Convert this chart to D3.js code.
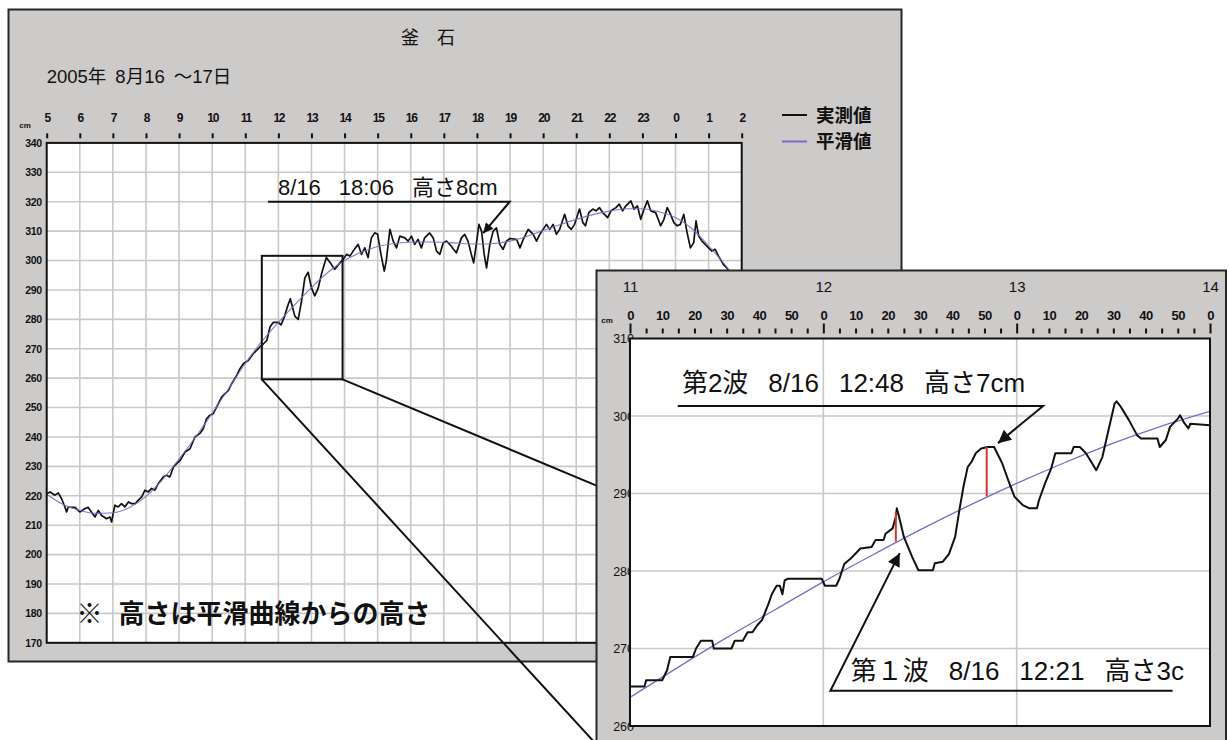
<!DOCTYPE html>
<html><head><meta charset="utf-8">
<script src="https://cdn.jsdelivr.net/npm/d3@7"></script>
<style>
html,body{margin:0;padding:0;background:#fff;}
svg{display:block;}
text{font-family:"Liberation Sans","Noto Sans CJK JP",sans-serif;fill:#111;}
</style></head><body>
<svg id="c" width="1229" height="740"></svg>
<script>
// ---------- DATA ----------
const titleText = "釜　石";
const dateParts = ["2005年", "8月16", "～17日"];
const legendLabels = ["実測値", "平滑値"];
const topHourLabels = ["5","6","7","8","9","10","11","12","13","14","15","16","17","18","19","20","21","22","23","0","1","2"];
const topHourValues = [5,6,7,8,9,10,11,12,13,14,15,16,17,18,19,20,21,22,23,24,25,26];
const mainCmTicks = [170,180,190,200,210,220,230,240,250,260,270,280,290,300,310,320,330,340];

// measured tide level [hour of 8/16 (24+ = 8/17), cm]
const mainMeasured = [[5.00,220.7],[5.10,221.3],[5.25,220.2],[5.35,221.0],[5.45,219.0],[5.55,216.2],[5.60,214.5],[5.65,216.1],[5.85,216.1],[6.00,214.5],[6.15,215.6],[6.25,216.1],[6.35,214.5],[6.46,212.8],[6.56,215.0],[6.66,213.3],[6.81,212.2],[6.91,212.8],[6.96,211.1],[7.06,216.8],[7.16,216.2],[7.26,217.3],[7.36,216.2],[7.47,217.9],[7.57,217.3],[7.67,217.3],[7.77,218.5],[7.87,219.6],[7.97,221.9],[8.07,221.3],[8.17,222.5],[8.27,221.9],[8.37,224.1],[8.52,226.4],[8.62,227.0],[8.72,226.4],[8.83,229.8],[8.98,231.5],[9.03,232.0],[9.18,234.9],[9.33,236.0],[9.48,240.0],[9.63,241.2],[9.73,242.8],[9.83,246.2],[9.93,247.4],[10.03,247.9],[10.13,250.1],[10.29,253.6],[10.39,254.7],[10.49,255.8],[10.59,258.1],[10.74,260.9],[10.84,263.2],[10.94,264.9],[11.09,266.0],[11.24,268.3],[11.44,270.6],[11.55,271.7],[11.65,272.8],[11.75,277.5],[11.85,279.0],[12.00,279.0],[12.08,278.1],[12.19,281.1],[12.28,284.5],[12.36,287.0],[12.50,281.0],[12.60,280.0],[12.70,286.2],[12.80,294.1],[12.90,296.0],[13.00,290.7],[13.10,288.0],[13.20,290.5],[13.30,295.3],[13.45,301.0],[13.60,298.7],[13.70,297.0],[13.86,299.2],[13.96,300.4],[14.06,302.1],[14.16,301.5],[14.26,303.2],[14.41,305.5],[14.51,302.1],[14.61,304.3],[14.71,301.0],[14.81,307.7],[14.91,309.4],[15.00,308.9],[15.10,302.1],[15.20,296.4],[15.26,299.8],[15.37,310.6],[15.47,306.6],[15.57,304.3],[15.67,308.3],[15.82,307.7],[15.92,306.6],[16.02,308.3],[16.12,305.5],[16.22,307.2],[16.32,304.3],[16.42,307.7],[16.57,309.4],[16.68,307.7],[16.78,303.2],[16.88,302.1],[16.98,306.0],[17.08,306.6],[17.18,305.5],[17.28,304.0],[17.38,302.6],[17.53,307.7],[17.63,308.9],[17.73,306.6],[17.83,302.1],[17.90,299.2],[17.98,305.5],[18.06,312.3],[18.14,310.0],[18.22,302.0],[18.29,297.5],[18.39,305.5],[18.49,310.0],[18.59,311.1],[18.69,305.5],[18.79,303.8],[18.89,306.6],[19.00,307.5],[19.20,307.2],[19.30,304.3],[19.40,307.2],[19.55,310.6],[19.70,308.9],[19.80,306.6],[19.90,308.9],[20.00,310.6],[20.10,312.3],[20.20,310.6],[20.30,312.3],[20.40,308.9],[20.50,310.6],[20.65,315.7],[20.75,311.8],[20.85,310.6],[20.95,312.3],[21.10,317.5],[21.20,312.9],[21.28,311.8],[21.38,316.3],[21.50,317.5],[21.60,316.9],[21.70,318.0],[21.80,316.3],[21.95,314.6],[22.05,316.9],[22.20,318.0],[22.30,319.2],[22.40,316.9],[22.50,318.6],[22.65,320.3],[22.75,317.5],[22.85,318.6],[22.95,314.0],[23.05,317.5],[23.15,320.3],[23.25,316.9],[23.40,316.3],[23.55,311.8],[23.65,314.0],[23.75,318.0],[23.85,315.7],[23.95,312.9],[24.05,311.8],[24.15,312.3],[24.25,315.7],[24.35,309.5],[24.45,304.3],[24.55,306.1],[24.62,313.5],[24.70,308.3],[24.80,306.6],[24.90,305.5],[25.00,304.3],[25.10,303.2],[25.20,303.8],[25.30,301.5],[25.45,298.6],[25.55,297.5],[25.65,295.5]];

const mainSmoothed = [[5.0,220.5],[5.5,217.0],[6.0,215.0],[6.5,214.0],[7.0,214.2],[7.5,216.0],[8.0,219.8],[8.5,225.5],[9.0,232.5],[9.5,240.0],[10.0,248.0],[10.5,256.5],[11.0,265.0],[11.5,272.5],[12.0,279.0],[12.5,285.0],[13.0,290.8],[13.5,296.0],[14.0,300.0],[14.5,302.8],[15.0,304.8],[15.5,305.8],[16.0,306.2],[16.5,306.3],[17.0,306.2],[17.5,305.8],[18.0,305.6],[18.5,305.8],[19.0,306.6],[19.5,308.2],[20.0,310.2],[20.5,312.2],[21.0,314.0],[21.5,315.6],[22.0,316.8],[22.5,317.6],[23.0,317.6],[23.5,316.6],[24.0,314.6],[24.5,310.8],[25.0,305.0],[25.5,298.5],[25.7,295.5]];

// zoom box on main chart [hour, cm]
const zoomBox = {h0: 11.5, h1: 13.94, c0: 259.6, c1: 301.6};

const mainNoteParts = ["8/16", "18:06", "高さ8cm"];
const mainNoteText = [11.99, 322.3];
const mainNoteLine = [[11.69, 320.0], [18.99, 320.0]];
const mainNoteTip = [18.19, 309.3];
const remarkParts = ["※", "高さは平滑曲線からの高さ"];
const remarkAt = [5.9, 176.6];

// inset (minutes after 11:00, cm)
const insetHourLabels = ["11", "12", "13", "14"];
const insetHourValues = [0, 60, 120, 180];
const insetMinuteLabels = ["0", "10", "20", "30", "40", "50"];
const insetCmTicks = [260, 270, 280, 290, 300, 310];

const insetMeasured = [[0,265.1],[4.5,265.1],[5,265.9],[10,265.9],[11.5,267.2],[12.5,268.9],[19.5,268.9],[20.5,270.0],[22,271.0],[25.5,271.0],[26,270.0],[31.5,270.0],[32.5,271.0],[35,271.0],[36.5,272.1],[38,272.1],[39.5,273.0],[41,273.7],[43,275.8],[44,277.0],[45.5,278.1],[46.5,278.1],[47.3,277.0],[48,278.8],[49,279.0],[59.5,279.0],[60.5,278.1],[64,278.1],[65,279.0],[66.5,280.9],[68.5,281.6],[71.5,282.9],[75,283.1],[76.2,284.0],[78.7,284.0],[79.3,284.8],[81.5,285.5],[82.5,287.0],[82.8,288.1],[83.5,287.0],[85,284.4],[87.6,281.8],[89.5,280.1],[94,280.1],[94.6,281.0],[97.1,281.2],[99,282.2],[100.9,284.4],[102.2,287.8],[103.5,290.9],[104.8,293.4],[106,294.1],[107.3,295.2],[109,295.8],[111,296.0],[113,296.0],[115.5,293.9],[117.4,291.7],[119.3,289.6],[121.9,288.5],[123.8,288.1],[126.3,288.1],[126.9,289.1],[128.8,291.3],[130.7,293.2],[132,295.2],[137,295.2],[137.7,296.0],[139.6,296.0],[141.5,295.2],[143.4,293.9],[144.7,293.0],[146.6,294.7],[148.5,298.2],[150.4,301.6],[151,301.9],[152.3,301.2],[154.8,299.5],[157.4,297.5],[158.6,297.1],[163.7,297.1],[164.4,296.0],[166.3,296.9],[167.6,298.6],[170.1,299.7],[170.7,300.1],[172,299.1],[173.3,298.4],[173.9,299.0],[180,298.8]];

const insetSmoothed = [[0,263.7],[15,267.6],[30,271.4],[45,275.0],[60,278.6],[75,282.0],[90,285.3],[105,288.4],[120,291.3],[135,294.0],[150,296.5],[165,298.7],[180,300.6]];

// wave heights (red bars): minute, smoothed level, peak level
const waveBars = [[82.5, 283.8, 287.6], [110.7, 289.6, 296.0]];

const wave2Parts = ["第2波", "8/16", "12:48", "高さ7cm"];
const wave2Text = [16.1, 303.1];
const wave2Line = [[14.8, 301.3], [128.2, 301.3]];
const wave2Tip = [114.2, 296.5];
const wave1Parts = ["第１波", "8/16", "12:21", "高さ3c"];
const wave1Text = [68.5, 265.9];
const wave1Line = [[168.4, 264.55], [62.2, 264.55]];
const wave1Tip = [83.7, 282.3];

// ---------- STYLE / LAYOUT ----------
const GRAY = "#cdcaca", BORDER = "#262626", GRID = "#c9c9c9", PURPLE = "#7a6cc6", RED = "#d4372a";
const MONO = "'DejaVu Sans Mono', monospace";

const svg = d3.select("#c");
const defs = svg.append("defs");
function marker(id, w, h) {
  defs.append("marker").attr("id", id).attr("viewBox", "0 0 10 10")
    .attr("refX", 10).attr("refY", 5).attr("markerUnits", "userSpaceOnUse")
    .attr("markerWidth", w).attr("markerHeight", h).attr("orient", "auto")
    .append("path").attr("d", "M0,0 L10,5 L0,10 Z").attr("fill", "#111");
}
marker("ahS", 13, 10);
marker("ahL", 17, 13);

// ---------- MAIN CHART ----------
const xMain = d3.scaleLinear().domain([5, 26]).range([46.7, 741.7]);
const yMain = d3.scaleLinear().domain([170, 340]).range([642.8, 142.9]);

svg.append("rect").attr("x", 8.5).attr("y", 9.5).attr("width", 893).attr("height", 652)
  .attr("fill", GRAY).attr("stroke", BORDER).attr("stroke-width", 2);

svg.append("text").attr("x", 428).attr("y", 38).attr("dy", "0.36em")
  .attr("text-anchor", "middle").attr("font-size", 18).text(titleText);

function chunks(sel, parts, gap) {
  parts.forEach((p, i) => sel.append("tspan").attr("dx", i ? gap : 0).text(p));
}
chunks(svg.append("text").attr("x", 46.7).attr("y", 83).attr("font-size", 18.5), dateParts, 9);

const legendColors = ["#111", PURPLE];
legendLabels.forEach((l, i) => {
  const y = 115 + i * 26.5;
  svg.append("line").attr("x1", 782).attr("x2", 807).attr("y1", y).attr("y2", y)
    .attr("stroke", legendColors[i]).attr("stroke-width", 2);
  svg.append("text").attr("x", 816).attr("y", y).attr("dy", "0.36em")
    .attr("font-size", 18.5).attr("font-weight", "bold").text(l);
});

const [mx0, mx1] = xMain.range(), [my0, my1] = [yMain(340), yMain(170)];
defs.append("clipPath").attr("id", "clipMain").append("rect")
  .attr("x", mx0).attr("y", my0).attr("width", mx1 - mx0).attr("height", my1 - my0);

svg.append("rect").attr("x", mx0).attr("y", my0).attr("width", mx1 - mx0).attr("height", my1 - my0).attr("fill", "#fff");

const gridMain = svg.append("g").attr("stroke", GRID).attr("stroke-width", 1.6);
gridMain.selectAll("line.v").data(topHourValues.slice(1, -1)).join("line")
  .attr("x1", d => xMain(d)).attr("x2", d => xMain(d)).attr("y1", my0).attr("y2", my1);
gridMain.selectAll("line.h").data(mainCmTicks.slice(1, -1)).join("line").attr("class", "h")
  .attr("x1", mx0).attr("x2", mx1).attr("y1", d => yMain(d)).attr("y2", d => yMain(d));

const lineMain = d3.line().x(d => xMain(d[0])).y(d => yMain(d[1]));
const gLines = svg.append("g").attr("clip-path", "url(#clipMain)");
gLines.append("path").datum(mainMeasured).attr("d", lineMain).attr("fill", "none")
  .attr("stroke", "#111").attr("stroke-width", 1.7).attr("stroke-linejoin", "round");
gLines.append("path").datum(mainSmoothed).attr("d", lineMain.curve(d3.curveMonotoneX)).attr("fill", "none")
  .attr("stroke", PURPLE).attr("stroke-width", 1.1).attr("opacity", 0.9);

svg.append("rect").attr("x", mx0).attr("y", my0).attr("width", mx1 - mx0).attr("height", my1 - my0)
  .attr("fill", "none").attr("stroke", "#111").attr("stroke-width", 2);

// top axis
const axTop = svg.append("g").attr("transform", `translate(0,${my0 - 4.6})`)
  .call(d3.axisTop(xMain).tickValues(topHourValues).tickSize(5).tickPadding(11.5)
    .tickFormat((d, i) => topHourLabels[i]));
axTop.select(".domain").remove();
axTop.selectAll("line").attr("stroke", "#111").attr("stroke-width", 2);
axTop.selectAll("text").attr("font-family", MONO).attr("font-weight", "bold").attr("font-size", 12)
  .attr("letter-spacing", -1.2).attr("fill", "#111");
svg.append("text").attr("x", 25).attr("y", 128).attr("text-anchor", "middle")
  .attr("font-family", MONO).attr("font-size", 8).attr("font-weight", "bold").text("cm");

const axLeft = svg.append("g").attr("transform", `translate(${mx0},0)`)
  .call(d3.axisLeft(yMain).tickValues(mainCmTicks).tickSize(0).tickPadding(5));
axLeft.select(".domain").remove();
axLeft.selectAll("text").attr("font-family", MONO).attr("font-weight", "bold").attr("font-size", 10.5)
  .attr("letter-spacing", -0.4).attr("fill", "#111");

// zoom box
svg.append("rect").attr("x", xMain(zoomBox.h0)).attr("y", yMain(zoomBox.c1))
  .attr("width", xMain(zoomBox.h1) - xMain(zoomBox.h0)).attr("height", yMain(zoomBox.c0) - yMain(zoomBox.c1))
  .attr("fill", "none").attr("stroke", "#111").attr("stroke-width", 2);

// main annotation
chunks(svg.append("text").attr("x", xMain(mainNoteText[0])).attr("y", yMain(mainNoteText[1])).attr("font-size", 22),
  mainNoteParts, 18);
svg.append("path").attr("d", d3.line()([
    [xMain(mainNoteLine[0][0]), yMain(mainNoteLine[0][1])],
    [xMain(mainNoteLine[1][0]), yMain(mainNoteLine[1][1])],
    [xMain(mainNoteTip[0]), yMain(mainNoteTip[1])]]))
  .attr("fill", "none").attr("stroke", "#111").attr("stroke-width", 2).attr("marker-end", "url(#ahS)");

chunks(svg.append("text").attr("x", xMain(remarkAt[0])).attr("y", yMain(remarkAt[1]))
  .attr("font-size", 26).attr("font-weight", "bold"), remarkParts, 16);

// ---------- INSET ----------
const xIn = d3.scaleLinear().domain([0, 180]).range([630, 1210]);
const yIn = d3.scaleLinear().domain([260, 310]).range([726, 338.5]);
const panel = {x: 596.5, y: 270.5, w: 629.5, h: 520};

// connector lines (drawn under the inset panel)
svg.append("line").attr("x1", xMain(zoomBox.h0)).attr("y1", yMain(zoomBox.c0))
  .attr("x2", panel.x).attr("y2", panel.y + 474).attr("stroke", "#111").attr("stroke-width", 2);
svg.append("line").attr("x1", xMain(zoomBox.h1)).attr("y1", yMain(zoomBox.c0))
  .attr("x2", xIn(0)).attr("y2", yIn(289.2)).attr("stroke", "#111").attr("stroke-width", 2);

svg.append("rect").attr("x", panel.x).attr("y", panel.y).attr("width", panel.w).attr("height", panel.h)
  .attr("fill", GRAY).attr("stroke", BORDER).attr("stroke-width", 2);

const [ix0, ix1] = xIn.range(), iy0 = yIn(310), iy1 = yIn(260);

const axInL = svg.append("g").attr("transform", `translate(${ix0},0)`)
  .call(d3.axisLeft(yIn).tickValues(insetCmTicks).tickSize(0).tickPadding(-4));
axInL.select(".domain").remove();
axInL.selectAll("text").attr("font-family", MONO).attr("font-size", 12.5).attr("fill", "#111");

svg.append("text").attr("x", 607).attr("y", 323).attr("text-anchor", "middle")
  .attr("font-family", MONO).attr("font-size", 8).attr("font-weight", "bold").text("cm");

defs.append("clipPath").attr("id", "clipIn").append("rect")
  .attr("x", ix0).attr("y", iy0).attr("width", ix1 - ix0).attr("height", iy1 - iy0);
svg.append("rect").attr("x", ix0).attr("y", iy0).attr("width", ix1 - ix0).attr("height", iy1 - iy0).attr("fill", "#fff");

const gridIn = svg.append("g").attr("stroke", GRID).attr("stroke-width", 1.6);
gridIn.selectAll("line.v").data(insetHourValues.slice(1, -1)).join("line")
  .attr("x1", d => xIn(d)).attr("x2", d => xIn(d)).attr("y1", iy0).attr("y2", iy1);
gridIn.selectAll("line.h").data(insetCmTicks.slice(1, -1)).join("line").attr("class", "h")
  .attr("x1", ix0).attr("x2", ix1).attr("y1", d => yIn(d)).attr("y2", d => yIn(d));

const lineIn = d3.line().x(d => xIn(d[0])).y(d => yIn(d[1]));
const gIn = svg.append("g").attr("clip-path", "url(#clipIn)");
gIn.append("path").datum(insetSmoothed).attr("d", d3.line().x(d => xIn(d[0])).y(d => yIn(d[1])).curve(d3.curveMonotoneX))
  .attr("fill", "none").attr("stroke", PURPLE).attr("stroke-width", 1.3);
gIn.append("path").datum(insetMeasured).attr("d", lineIn).attr("fill", "none")
  .attr("stroke", "#111").attr("stroke-width", 2).attr("stroke-linejoin", "round");
gIn.selectAll("line.red").data(waveBars).join("line").attr("class", "red")
  .attr("x1", d => xIn(d[0])).attr("x2", d => xIn(d[0])).attr("y1", d => yIn(d[1])).attr("y2", d => yIn(d[2]))
  .attr("stroke", RED).attr("stroke-width", 2);

// wave annotations
function note(parts, at, line, tip) {
  chunks(gIn.append("text").attr("x", xIn(at[0])).attr("y", yIn(at[1])).attr("font-size", 26), parts, 20);
  gIn.append("path").attr("d", d3.line()([
      [xIn(line[0][0]), yIn(line[0][1])], [xIn(line[1][0]), yIn(line[1][1])], [xIn(tip[0]), yIn(tip[1])]]))
    .attr("fill", "none").attr("stroke", "#111").attr("stroke-width", 2).attr("marker-end", "url(#ahL)");
}
note(wave2Parts, wave2Text, wave2Line, wave2Tip);
note(wave1Parts, wave1Text, wave1Line, wave1Tip);

svg.append("rect").attr("x", ix0).attr("y", iy0).attr("width", ix1 - ix0).attr("height", iy1 - iy0)
  .attr("fill", "none").attr("stroke", "#111").attr("stroke-width", 2);

// inset top axes
const minuteTicks = d3.range(0, 181, 5);
const axInTop = svg.append("g").attr("transform", `translate(0,${iy0 - 5})`)
  .call(d3.axisTop(xIn).tickValues(minuteTicks).tickSize(5).tickPadding(9)
    .tickFormat(d => d % 10 === 0 ? insetMinuteLabels[(d % 60) / 10] : ""));
axInTop.select(".domain").remove();
axInTop.selectAll(".tick line").attr("stroke", "#111").attr("stroke-width", 2)
  .attr("y2", d => d % 60 === 0 ? -10 : -5);
axInTop.selectAll("text").attr("font-family", MONO).attr("font-weight", "bold").attr("font-size", 13)
  .attr("letter-spacing", -0.5).attr("fill", "#111");

const axInHour = svg.append("g").attr("transform", `translate(0,291.5)`)
  .call(d3.axisTop(xIn).tickValues(insetHourValues).tickSize(0).tickPadding(0)
    .tickFormat((d, i) => insetHourLabels[i]));
axInHour.select(".domain").remove();
axInHour.selectAll("text").attr("font-size", 15).attr("fill", "#111");
</script>
</body></html>
